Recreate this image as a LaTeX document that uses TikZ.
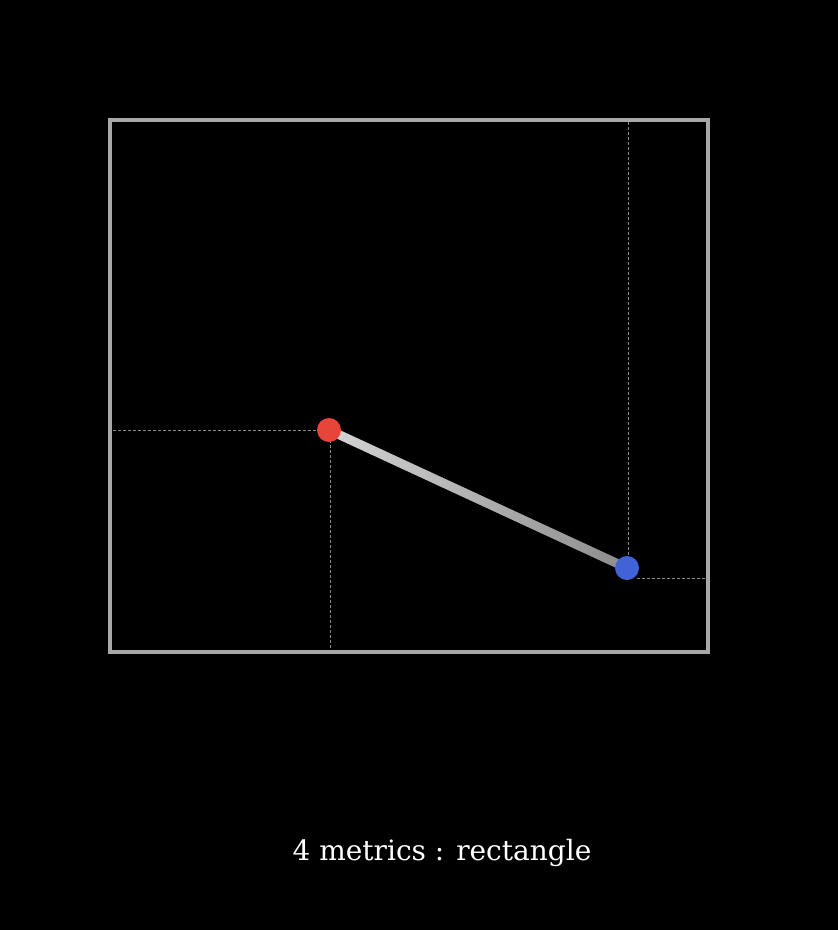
\documentclass[tikz,border=0pt]{standalone}
\usepackage{fontspec}
\setmainfont{DejaVu Serif}
\usetikzlibrary{calc}
\definecolor{framegray}{HTML}{A8A8A8}
\definecolor{guidegray}{HTML}{8A8A8A}
\definecolor{dotred}{HTML}{E8453A}
\definecolor{dotblue}{HTML}{4263D8}
\definecolor{barlight}{HTML}{D4D4D4}
\definecolor{bardark}{HTML}{8C8C8C}
\begin{document}
\begin{tikzpicture}[x=1pt,y=-1pt,
  frame/.style={draw=framegray, line width=3.5pt},
  guide/.style={draw=guidegray, dash pattern=on 2.5pt off 2.5pt, line width=1pt},
  dot/.style={circle, inner sep=0pt, minimum size=24pt},
  caption/.style={text=white, font=\fontsize{28}{33}\selectfont}]
\useasboundingbox (0,0) rectangle (838,930);
\fill[black] (0,0) rectangle (838,930);
\draw[frame] (110,120) rectangle (708,652);
% guides
\coordinate (rl) at (113,430);
\coordinate (rd) at (330,650);
\coordinate (bu) at (628,122);
\coordinate (brs) at (637,578);
\coordinate (bre) at (706,578);
\draw[guide] (rl) -- (329,430);
\draw[guide] (330,430) -- (rd);
\draw[guide] (bu) -- (628,568);
\draw[guide] (brs) -- (bre);
% connector
\coordinate (rc) at (329,430);
\coordinate (bc) at (627,568);
\shade[left color=barlight, right color=bardark]
  ($(rc)!4.5pt!90:(bc)$) -- ($(rc)!4.5pt!-90:(bc)$) --
  ($(bc)!4.5pt!90:(rc)$) -- ($(bc)!4.5pt!-90:(rc)$) -- cycle;
\node[dot, fill=dotred] (r) at (rc) {};
\node[dot, fill=dotblue] (b) at (bc) {};
\node[caption] (t) at (442,853) {4 metrics : rectangle};
\end{tikzpicture}
\end{document}
